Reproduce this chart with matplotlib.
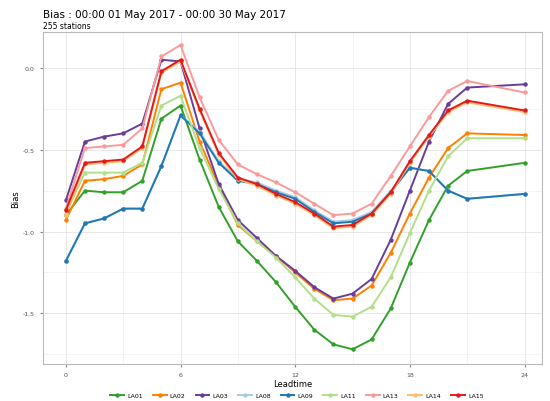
import matplotlib
matplotlib.use("Agg")
import matplotlib.pyplot as plt
from matplotlib.ticker import MultipleLocator

leadtime = [0, 1, 2, 3, 4, 5, 6, 7, 8, 9, 10, 11, 12, 13, 14, 15, 16, 17, 18, 19, 20, 21, 24]

la01 = [-0.90, -0.75, -0.76, -0.76, -0.69, -0.31, -0.23, -0.56, -0.85, -1.06, -1.18, -1.31,
        -1.46, -1.60, -1.69, -1.72, -1.66, -1.47, -1.19, -0.93, -0.72, -0.63, -0.58]
la02 = [-0.93, -0.69, -0.68, -0.66, -0.59, -0.13, -0.09, -0.45, -0.72, -0.96, -1.06, -1.15,
        -1.25, -1.35, -1.42, -1.41, -1.33, -1.13, -0.89, -0.67, -0.49, -0.40, -0.41]
la03 = [-0.81, -0.45, -0.42, -0.40, -0.34, 0.05, 0.04, -0.37, -0.71, -0.93, -1.04, -1.15,
        -1.24, -1.34, -1.41, -1.38, -1.29, -1.05, -0.75, -0.45, -0.22, -0.12, -0.10]
la08 = [-1.18, -0.95, -0.92, -0.86, -0.86, -0.60, -0.29, -0.39, -0.57, -0.68, -0.70, -0.75,
        -0.79, -0.87, -0.94, -0.93, -0.88, -0.75, -0.61, -0.63, -0.75, -0.80, -0.77]
la09 = [-1.18, -0.95, -0.92, -0.86, -0.86, -0.60, -0.29, -0.40, -0.58, -0.69, -0.71, -0.76,
        -0.80, -0.88, -0.95, -0.94, -0.89, -0.76, -0.61, -0.63, -0.75, -0.80, -0.77]
la11 = [-0.89, -0.64, -0.64, -0.64, -0.58, -0.23, -0.17, -0.49, -0.74, -0.95, -1.06, -1.16,
        -1.28, -1.41, -1.51, -1.52, -1.46, -1.28, -1.01, -0.75, -0.54, -0.43, -0.43]
la13 = [-0.86, -0.49, -0.48, -0.47, -0.37, 0.07, 0.14, -0.18, -0.44, -0.59, -0.65, -0.70,
        -0.76, -0.83, -0.90, -0.89, -0.83, -0.66, -0.48, -0.30, -0.14, -0.08, -0.15]
la14 = [-0.90, -0.59, -0.58, -0.57, -0.49, -0.03, 0.04, -0.26, -0.53, -0.68, -0.72, -0.78,
        -0.83, -0.90, -0.98, -0.97, -0.90, -0.77, -0.58, -0.42, -0.27, -0.21, -0.27]
la15 = [-0.87, -0.58, -0.57, -0.56, -0.48, -0.02, 0.05, -0.25, -0.52, -0.67, -0.71, -0.77,
        -0.82, -0.89, -0.97, -0.96, -0.89, -0.76, -0.57, -0.41, -0.26, -0.20, -0.26]

names = ["LA01", "LA02", "LA03", "LA08", "LA09", "LA11", "LA13", "LA14", "LA15"]
series = [la01, la02, la03, la08, la09, la11, la13, la14, la15]
colors = ["#33a02c", "#ff7f00", "#6a3d9a", "#a6cee3", "#1f78b4",
          "#b2df8a", "#fb9a99", "#fdbf6f", "#e31a1c"]

fig = plt.figure(figsize=(5.5, 4.02), dpi=100)
ax = fig.add_axes([0.078, 0.092, 0.907, 0.826])

for name, vals, col in zip(names, series, colors):
    ax.plot(leadtime, vals, color=col, lw=1.4, marker="o", ms=2.2, label=name)

ax.set_xlim(-1.2, 24.9)
ax.set_ylim(-1.81, 0.22)
ax.xaxis.set_major_locator(MultipleLocator(6))
ax.xaxis.set_minor_locator(MultipleLocator(3))
ax.yaxis.set_major_locator(MultipleLocator(0.5))
ax.yaxis.set_minor_locator(MultipleLocator(0.25))
ax.set_yticks([0.0, -0.5, -1.0, -1.5])
ax.set_yticklabels(["0.0", "-0.5", "-1.0", "-1.5"])
ax.grid(which="major", color="#e4e4e4", lw=0.6)
ax.grid(which="minor", color="#f0f0f0", lw=0.5)
ax.set_axisbelow(True)
ax.tick_params(which="both", length=0, labelsize=4.5, labelcolor="#555555", pad=4)
ax.tick_params(which="major", axis="y", length=2, color="#888888")
ax.tick_params(which="major", axis="x", length=2, color="#888888")
for s in ax.spines.values():
    s.set_color("#bbbbbb")
    s.set_linewidth(0.8)

ax.set_xlabel("Leadtime", fontsize=6, labelpad=1)
ax.set_ylabel("Bias", fontsize=6, labelpad=2)

fig.text(0.078, 0.962, "Bias : 00:00 01 May 2017 - 00:00 30 May 2017", fontsize=7.5, va="center")
fig.text(0.078, 0.935, "255 stations", fontsize=5.5, va="center")

fig.legend(loc="center", bbox_to_anchor=(0.54, 0.014), ncol=9, frameon=False,
           fontsize=4.5, handlelength=2.2, columnspacing=1.6, handletextpad=0.5)

fig.savefig("out.png", dpi=100)
